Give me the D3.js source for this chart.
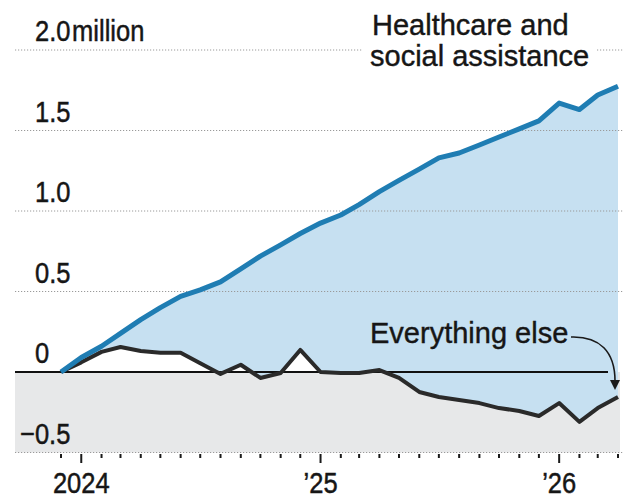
<!DOCTYPE html>
<html>
<head>
<meta charset="utf-8">
<script src="https://cdn.jsdelivr.net/npm/d3@7"></script>
<style>
  html, body { margin: 0; padding: 0; background: #fff; }
  svg { display: block; }
  .axis-num { font-family: "Liberation Sans", Arial, sans-serif; font-size: 30px; fill: #161616; stroke: #161616; stroke-width: 0.5px; }
  .note { font-family: "Liberation Sans", Arial, sans-serif; font-size: 29px; fill: #161616; stroke: #161616; stroke-width: 0.4px; }
</style>
</head>
<body>
<svg id="chart" width="629" height="500"></svg>
<script>
// Cumulative change in jobs since December 2023, millions
const months = [
  "2023-12",
  "2024-01", "2024-02", "2024-03", "2024-04", "2024-05", "2024-06",
  "2024-07", "2024-08", "2024-09", "2024-10", "2024-11", "2024-12",
  "2025-01", "2025-02", "2025-03", "2025-04", "2025-05", "2025-06",
  "2025-07", "2025-08", "2025-09", "2025-10", "2025-11", "2025-12",
  "2026-01", "2026-02", "2026-03", "2026-04"
];
const healthcare = [
  0,
  0.09, 0.16, 0.24, 0.325, 0.40, 0.47,
  0.51, 0.56, 0.64, 0.72, 0.79, 0.86,
  0.925, 0.975, 1.04, 1.12, 1.19, 1.26,
  1.33, 1.36, 1.41, 1.46, 1.51, 1.56,
  1.67, 1.63, 1.72, 1.775
];
const everythingElse = [
  0,
  0.06, 0.125, 0.155, 0.13, 0.12, 0.12,
  0.055, -0.012, 0.045, -0.037, -0.006, 0.137,
  0, -0.006, -0.006, 0.012, -0.037, -0.124,
  -0.155, -0.174, -0.193, -0.224, -0.242, -0.273,
  -0.193, -0.31, -0.224, -0.155
];
const yTicks = [2.0, 1.5, 1.0, 0.5, 0, -0.5];
const yTickLabels = ["2.0", "1.5", "1.0", "0.5", "0", "\u22120.5"];
const majorMonths = ["2024-01", "2025-01", "2026-01"];
const majorLabels = ["2024", "\u201925", "\u201926"];

const parse = d3.timeParse("%Y-%m");
const fmt = d3.timeFormat("%Y-%m");
const data = months.map((m, i) => ({
  date: parse(m),
  hc: healthcare[i],
  other: everythingElse[i]
}));

const svg = d3.select("#chart");
const left = 15, right = 623;
const squeeze = 0.85; // horizontal compression for the axis numerals

const x = d3.scaleTime()
  .domain([parse(months[0]), parse(months[months.length - 1])])
  .range([61, 618]);
const y = d3.scaleLinear().domain([-0.5, 2.0]).range([452.5, 50]);

// Shaded band below zero
svg.append("rect")
  .attr("x", left).attr("y", y(0))
  .attr("width", 620 - left).attr("height", y(-0.5) - y(0))
  .attr("fill", "#e7e8e9");

// Gap between the two series
const gap = d3.area()
  .x(d => x(d.date))
  .y0(d => y(d.other))
  .y1(d => y(d.hc));
svg.append("path").datum(data)
  .attr("d", gap)
  .attr("fill", "#c6e0f1");

// Dotted gridlines
svg.append("g").selectAll("line")
  .data(yTicks.filter(v => v !== 0))
  .join("line")
  .attr("x1", left).attr("x2", right)
  .attr("y1", d => y(d)).attr("y2", d => y(d))
  .attr("stroke", "#9a9a9a")
  .attr("stroke-width", 1)
  .attr("stroke-dasharray", "1.2,1.8");

// Zero line
svg.append("line")
  .attr("x1", left).attr("x2", 608)
  .attr("y1", y(0)).attr("y2", y(0))
  .attr("stroke", "#111").attr("stroke-width", 2);

// Y labels, sitting above their gridlines
const yLab = svg.append("g").attr("class", "axis-num");
yTicks.forEach((v, i) => {
  const x0 = v < 0 ? 20 : 35;
  const t = yLab.append("text")
    .attr("transform", `translate(${x0},${y(v) - 9}) scale(${squeeze},1)`)
    .text(yTickLabels[i]);
  if (i === 0) t.append("tspan").attr("dx", 2).text("million");
});

// Series lines
const line = key => d3.line().x(d => x(d.date)).y(d => y(d[key]));
svg.append("path").datum(data)
  .attr("d", line("other"))
  .attr("fill", "none").attr("stroke", "#2a2a2a")
  .attr("stroke-width", 4).attr("stroke-linejoin", "round");
svg.append("path").datum(data)
  .attr("d", line("hc"))
  .attr("fill", "none").attr("stroke", "#1f7db3")
  .attr("stroke-width", 5).attr("stroke-linejoin", "round");

// X axis: monthly ticks, longer at each new year
const xAxis = svg.append("g");
xAxis.selectAll("line")
  .data(data)
  .join("line")
  .attr("x1", d => x(d.date)).attr("x2", d => x(d.date))
  .attr("y1", 454)
  .attr("y2", d => majorMonths.includes(fmt(d.date)) ? 463 : 458)
  .attr("stroke", "#1a1a1a").attr("stroke-width", 2);
xAxis.selectAll("text")
  .data(majorMonths)
  .join("text")
  .attr("class", "axis-num")
  .attr("transform", d => `translate(${x(parse(d))},493) scale(${squeeze},1)`)
  .attr("text-anchor", "middle")
  .text((d, i) => majorLabels[i]);

// Series labels
const hcLabel = svg.append("g");
hcLabel.append("rect")
  .attr("x", 362).attr("y", 8).attr("width", 234).attr("height", 66)
  .attr("fill", "#fff");
hcLabel.append("text").attr("class", "note")
  .attr("x", 372).attr("y", 35).text("Healthcare and");
hcLabel.append("text").attr("class", "note")
  .attr("x", 370).attr("y", 66).text("social assistance");

svg.append("text").attr("class", "note")
  .attr("x", 370).attr("y", 343).text("Everything else");

// Pointer from label to the line's end
svg.append("path")
  .attr("d", "M571,337 C600,336 615,352 615,381")
  .attr("fill", "none").attr("stroke", "#1a1a1a").attr("stroke-width", 1.6);
svg.append("path")
  .attr("d", "M610,380 L620,380 L615,390 Z")
  .attr("fill", "#1a1a1a");
</script>
</body>
</html>
